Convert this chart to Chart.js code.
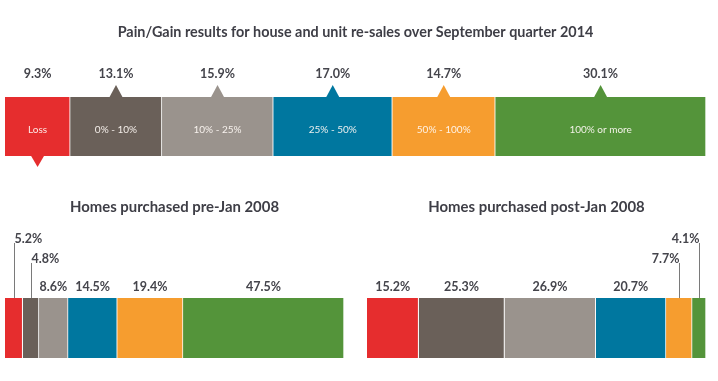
<!DOCTYPE html>
<html><head><meta charset="utf-8">
<script src="https://cdn.jsdelivr.net/npm/chart.js@4"></script>
<style>
html,body{margin:0;padding:0;background:#fff;}
#wrap{position:relative;width:718px;height:381px;overflow:hidden;}
.c{position:absolute;}
</style></head><body>
<div id="wrap">
<div class="c" style="left:0;top:0;width:718px;height:180px"><canvas id="cTop"></canvas></div>
<div class="c" style="left:0;top:180px;width:359px;height:201px"><canvas id="cPre"></canvas></div>
<div class="c" style="left:359px;top:180px;width:359px;height:201px"><canvas id="cPost"></canvas></div>
</div>
<script>
const categories = ["Loss", "0% - 10%", "10% - 25%", "25% - 50%", "50% - 100%", "100% or more"];
const colors = ["#E62D2E", "#6A6059", "#9A938D", "#00779F", "#F69D2F", "#54943A"];
const topValues = [9.3, 13.1, 15.9, 17.0, 14.7, 30.1];
const preValues = [5.2, 4.8, 8.6, 14.5, 19.4, 47.5];
const postValues = [15.2, 25.3, 26.9, 20.7, 7.7, 4.1];
const titleTop = "Pain/Gain results for house and unit re-sales over September quarter 2014";
const titlePre = "Homes purchased pre-Jan 2008";
const titlePost = "Homes purchased post-Jan 2008";

const FONT = "Lato, 'Open Sans', sans-serif";
const TEXT = "#45454c";

const segLabels = {
  id: 'segLabels',
  afterDatasetsDraw(chart, args, opts) {
    const ctx = chart.ctx;
    const n = chart.data.datasets.length;
    const segs = [];
    for (let i = 0; i < n; i++) {
      const el = chart.getDatasetMeta(i).data[0];
      const p = el.getProps(['x', 'y', 'base', 'height'], true);
      const v = chart.data.datasets[i].data[0];
      segs.push({ i, v, l: Math.min(p.base, p.x), r: Math.max(p.base, p.x), y: p.y, h: p.height });
    }
    const barTop = segs[0].y - segs[0].h / 2;
    const barBottom = segs[0].y + segs[0].h / 2;
    ctx.save();
    if (opts.mode === 'pointer') {
      segs.forEach(s => {
        const cx = (s.l + s.r) / 2;
        ctx.fillStyle = colors[s.i];
        ctx.beginPath();
        if (s.i === opts.downIndex) {
          ctx.moveTo(cx - 7, barBottom - 1);
          ctx.lineTo(cx + 7, barBottom - 1);
          ctx.lineTo(cx, barBottom + 11);
        } else {
          ctx.moveTo(cx - 7, barTop + 1);
          ctx.lineTo(cx + 7, barTop + 1);
          ctx.lineTo(cx, barTop - 12);
        }
        ctx.closePath();
        ctx.fill();
        ctx.fillStyle = TEXT;
        ctx.font = "bold 12.5px " + FONT;
        ctx.textAlign = 'center';
        ctx.textBaseline = 'middle';
        ctx.fillText(s.v.toFixed(1) + '%', cx, barTop - 23);
        ctx.fillStyle = 'rgba(255,250,245,0.92)';
        ctx.font = "10px " + FONT;
        ctx.fillText(categories[s.i], cx, s.y + 3);
      });
    } else {
      const mid = (chart.chartArea.left + chart.chartArea.right) / 2;
      const narrow = segs.filter(s => s.v < 8);
      const leftN = narrow.filter(s => (s.l + s.r) / 2 < mid);
      const rightN = narrow.filter(s => (s.l + s.r) / 2 >= mid);
      const level = {};
      leftN.forEach((s, p) => level[s.i] = leftN.length - p);
      rightN.forEach((s, p) => level[s.i] = p + 1);
      ctx.font = "bold 12.5px " + FONT;
      ctx.textBaseline = 'middle';
      segs.forEach(s => {
        const cx = (s.l + s.r) / 2;
        const L = level[s.i] || 0;
        const txt = s.v.toFixed(1) + '%';
        if (!L) {
          ctx.fillStyle = TEXT;
          ctx.textAlign = 'center';
          ctx.fillText(txt, cx, barTop - 11);
        } else {
          const ly = barTop - 19 - 20 * L;
          const lx = Math.round(cx) + 0.5;
          ctx.strokeStyle = '#7a7a7a';
          ctx.lineWidth = 1;
          ctx.beginPath();
          ctx.moveTo(lx, ly + 4);
          ctx.lineTo(lx, barTop);
          ctx.stroke();
          ctx.fillStyle = TEXT;
          const onLeft = cx < mid;
          ctx.textAlign = onLeft ? 'left' : 'right';
          ctx.fillText(txt, lx, ly);
        }
      });
    }
    ctx.restore();
  }
};

function makeChart(id, values, title, cfg) {
  const total = values.reduce((a, b) => a + b, 0);
  return new Chart(document.getElementById(id), {
    type: 'bar',
    data: {
      labels: [''],
      datasets: values.map((v, i) => ({
        label: categories[i],
        data: [v],
        backgroundColor: colors[i],
        borderColor: 'rgba(255,255,255,0.95)',
        borderWidth: { left: 0, top: 0, bottom: 0, right: 1 },
        borderSkipped: false,
        categoryPercentage: 1,
        barPercentage: 1
      }))
    },
    options: {
      indexAxis: 'y',
      responsive: true,
      maintainAspectRatio: false,
      animation: false,
      events: [],
      layout: { padding: cfg.padding },
      scales: {
        x: { stacked: true, display: false, min: 0, max: total },
        y: { stacked: true, display: false }
      },
      plugins: {
        legend: { display: false },
        tooltip: { enabled: false },
        title: {
          display: true,
          text: title,
          color: "#3e3e46",
          font: { family: FONT, size: cfg.titleSize, weight: 'bold', lineHeight: 1.2 },
          padding: cfg.titlePadding
        },
        segLabels: cfg.labels
      }
    },
    plugins: [segLabels]
  });
}

makeChart('cTop', topValues, titleTop, {
  titleSize: 14.4,
  padding: { left: 5, right: 12, top: 0, bottom: 24 },
  titlePadding: { top: 23.4, bottom: 56.3 },
  labels: { mode: 'pointer', downIndex: 0 }
});
makeChart('cPre', preValues, titlePre, {
  titleSize: 14.9,
  padding: { left: 5, right: 15, top: 0, bottom: 23 },
  titlePadding: { top: 18.1, bottom: 82.0 },
  labels: { mode: 'leader' }
});
makeChart('cPost', postValues, titlePost, {
  titleSize: 14.9,
  padding: { left: 8, right: 12, top: 0, bottom: 23 },
  titlePadding: { top: 18.1, bottom: 82.0 },
  labels: { mode: 'leader' }
});
</script>
</body></html>
